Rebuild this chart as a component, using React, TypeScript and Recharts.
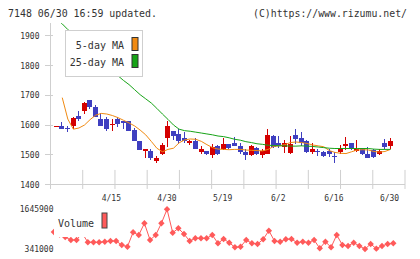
import React from "react";
import { Bar, ComposedChart, Line, ReferenceLine, XAxis, YAxis } from "recharts";

const dates = [
  "4/1", "4/2", "4/3", "4/4", "4/7", "4/8", "4/9", "4/10", "4/11", "4/14",
  "4/15", "4/16", "4/17", "4/18", "4/21", "4/22", "4/23", "4/24", "4/25", "4/28",
  "4/30", "5/1", "5/2", "5/7", "5/8", "5/9", "5/12", "5/13", "5/14", "5/15",
  "5/19", "5/20", "5/21", "5/22", "5/23", "5/26", "5/27", "5/28", "5/29", "5/30",
  "6/2", "6/3", "6/4", "6/5", "6/6", "6/9", "6/10", "6/11", "6/12", "6/13",
  "6/16", "6/17", "6/18", "6/19", "6/20", "6/23", "6/24", "6/25", "6/26", "6/27",
  "6/30",
];
const opens = [
  1597, 1596, 1589, 1597, 1630, 1648, 1684, 1659, 1619, 1620,
  1601, 1620, 1614, 1614, 1583, 1547, 1513, 1512, 1480, 1502,
  1558, 1580, 1569, 1558, 1538, 1545, 1508, 1512, 1499, 1530,
  1518, 1536, 1538, 1529, 1508, 1499, 1523, 1499, 1504, 1563,
  1538, 1525, 1506, 1566, 1555, 1547, 1510, 1512, 1510, 1513,
  1496, 1508, 1530, 1538, 1512, 1521, 1504, 1515, 1501, 1541,
  1530,
];
const highs = [
  1598, 1611, 1596, 1628, 1647, 1678, 1684, 1667, 1641, 1627,
  1620, 1628, 1614, 1614, 1590, 1547, 1519, 1519, 1497, 1540,
  1612, 1580, 1585, 1578, 1548, 1555, 1528, 1512, 1536, 1534,
  1556, 1536, 1559, 1539, 1519, 1534, 1527, 1521, 1586, 1566,
  1562, 1548, 1562, 1588, 1578, 1551, 1538, 1519, 1514, 1521,
  1510, 1532, 1559, 1541, 1549, 1523, 1525, 1521, 1521, 1552,
  1555,
];
const lows = [
  1596, 1585, 1577, 1588, 1613, 1637, 1655, 1628, 1597, 1580,
  1580, 1594, 1588, 1580, 1547, 1515, 1490, 1483, 1472, 1499,
  1527, 1549, 1535, 1538, 1532, 1518, 1502, 1498, 1490, 1499,
  1516, 1518, 1529, 1501, 1482, 1496, 1499, 1490, 1502, 1524,
  1522, 1505, 1502, 1536, 1528, 1505, 1504, 1496, 1492, 1494,
  1473, 1502, 1515, 1515, 1510, 1500, 1488, 1490, 1498, 1518,
  1518,
];
const closes = [
  1597, 1585, 1587, 1622, 1621, 1673, 1659, 1628, 1597, 1585,
  1605, 1604, 1607, 1580, 1547, 1515, 1519, 1490, 1489, 1532,
  1596, 1564, 1547, 1547, 1545, 1521, 1519, 1504, 1527, 1504,
  1536, 1523, 1530, 1508, 1499, 1530, 1502, 1513, 1566, 1527,
  1530, 1538, 1536, 1552, 1540, 1508, 1521, 1508, 1495, 1501,
  1494, 1521, 1536, 1518, 1521, 1504, 1490, 1493, 1513, 1527,
  1545,
];
const ma5 = [
  null, 1692, 1620, 1586, 1590, 1600, 1618, 1633, 1639, 1637,
  1632, 1625, 1616, 1607, 1597, 1583, 1567, 1545, 1522, 1510,
  1518, 1522, 1540, 1550, 1553, 1552, 1545, 1534, 1524, 1519,
  1518, 1517, 1518, 1518, 1516, 1515, 1514, 1513, 1518, 1528,
  1530, 1534, 1541, 1543, 1541, 1538, 1533, 1530, 1527, 1514,
  1508, 1505, 1504, 1510, 1516, 1517, 1516, 1511, 1509, 1511,
  1518,
];
const ma25 = [
  1958, 1940, 1921, 1904, 1885, 1869, 1850, 1834, 1815, 1799,
  1782, 1766, 1750, 1736, 1719, 1702, 1688, 1674, 1656, 1637,
  1619, 1600, 1586, 1581, 1579, 1576, 1573, 1570, 1567, 1563,
  1561, 1557, 1552, 1549, 1544, 1541, 1537, 1535, 1532, 1531,
  1530, 1530, 1529, 1529, 1530, 1529, 1528, 1526, 1524, 1522,
  1521, 1521, 1521, 1521, 1521, 1521, 1521, 1519, 1518, 1518,
  1518,
];
const volumes = [
  900000, 820000, 735000, 637000, 637000, 860000, 561000, 561000, 561000, 581000,
  604000, 604000, 472000, 417000, 890000, 801000, 1186000, 637000, 801000, 1186000,
  1645900, 877000, 1021000, 834000, 604000, 693000, 693000, 693000, 801000, 528000,
  670000, 548000, 397000, 417000, 637000, 528000, 505000, 660000, 943000, 604000,
  581000, 660000, 670000, 548000, 581000, 548000, 637000, 364000, 581000, 397000,
  801000, 472000, 440000, 548000, 440000, 341000, 505000, 352000, 440000, 505000,
  528000,
];

const priceTicks = [1400, 1500, 1600, 1700, 1800, 1900];
const dateTicks = ["4/15", "4/30", "5/19", "6/2", "6/16", "6/30"];
const volumeTicks = [341000, 993450, 1645900];
const axisMarks = [0, 1, 2, 3, 4, 5, 6, 7, 8, 9, 10, 11];

const rows = dates.map((date, i) => ({
  date,
  open: opens[i],
  high: highs[i],
  low: lows[i],
  close: closes[i],
  range: [lows[i], highs[i]],
  ma5: ma5[i],
  ma25: ma25[i],
  volume: volumes[i],
}));
const markRows = axisMarks.map((m) => ({ m }));

const RED = "#d40000";
const BLUE = "#3f3fc0";
const ORANGE = "#f08a12";
const GREEN = "#17a317";
const VOL = "#ff5a5a";
const AXIS = "#cfcfcf";
const TEXT = "#333";
const MONO = "'DejaVu Sans Mono', monospace";

const X_PAD = { left: 3.4, right: 11.7 };

function Candle(props: any) {
  const { x, y, width, height, payload } = props;
  if (x == null || y == null) return null;
  const color = payload.close >= payload.open ? RED : BLUE;
  const cx = Math.floor(x + width / 2) + 0.5;
  const top = Math.min(y, y + height);
  const h = Math.abs(height);
  const span = payload.high - payload.low;
  const ppu = span > 0 ? h / span : 0;
  const bTop = top + (payload.high - Math.max(payload.open, payload.close)) * ppu;
  const bBot = top + (payload.high - Math.min(payload.open, payload.close)) * ppu;
  const by = Math.round(bTop);
  const bh = Math.max(1, Math.round(bBot) - by);
  return (
    <g>
      <line x1={cx} x2={cx} y1={Math.round(top)} y2={Math.round(top + h)} stroke={color} strokeWidth={1} />
      <rect x={cx - 2.5} y={by} width={5} height={bh} fill={color} />
    </g>
  );
}

function PriceTick({ y, payload }: any) {
  const ly = Math.floor(y) + 0.5;
  return (
    <g>
      <line x1={45} x2={53} y1={ly} y2={ly} stroke={AXIS} strokeWidth={1} />
      <text x={39.5} y={y} dy={3} textAnchor="end" fontFamily={MONO} fontSize={8} fill={TEXT}>
        {payload.value}
      </text>
    </g>
  );
}

function DateTick({ x, y, payload }: any) {
  return (
    <text x={x - 1} y={y} dy={8} textAnchor="middle" fontFamily={MONO} fontSize={8} fill={TEXT}>
      {payload.value}
    </text>
  );
}

function VolumeTick({ y, payload }: any) {
  return (
    <text x={53.5} y={y} dy={3} textAnchor="end" fontFamily={MONO} fontSize={8} fill={TEXT}>
      {payload.value}
    </text>
  );
}

function Diamond(props: any) {
  const { cx, cy, key } = props;
  if (cx == null || cy == null) return null;
  const r = 3.2;
  return <path key={key} d={`M${cx},${cy - r}L${cx + r},${cy}L${cx},${cy + r}L${cx - r},${cy}Z`} fill={VOL} />;
}

export default function App() {
  return (
    <div style={{ position: "absolute", left: 0, top: 0, width: 420, height: 259, background: "#fff", overflow: "hidden" }}>
      <div style={{ position: "absolute", left: 0, top: 0 }}>
        <ComposedChart width={420} height={205} data={markRows} margin={{ top: 23, right: 15, bottom: 20.5, left: 50.5 }}>
          <XAxis dataKey="m" type="number" domain={[0, 11]} allowDataOverflow hide />
          <YAxis domain={[1400, 1943]} allowDataOverflow hide />
          {axisMarks.map((m) => (
            <ReferenceLine
              key={m}
              segment={[{ x: m, y: 1449 }, { x: m, y: 1385 }]}
              ifOverflow="visible"
              stroke={AXIS}
              strokeWidth={1}
            />
          ))}
        </ComposedChart>
      </div>
      <div style={{ position: "absolute", left: 0, top: 0 }}>
        <ComposedChart width={420} height={205} data={rows} margin={{ top: 23, right: 15, bottom: 0.5, left: 0 }}>
          <XAxis
            dataKey="date"
            ticks={dateTicks}
            interval={0}
            padding={X_PAD}
            tickLine={false}
            axisLine={{ stroke: AXIS }}
            tick={<DateTick />}
            height={20}
          />
          <YAxis
            domain={[1400, 1943]}
            allowDataOverflow
            ticks={priceTicks}
            width={50.5}
            tickLine={false}
            axisLine={{ stroke: AXIS }}
            tick={<PriceTick />}
          />
          <Bar dataKey="range" barSize={5} shape={<Candle />} isAnimationActive={false} />
          <Line dataKey="ma5" type="linear" stroke={ORANGE} strokeWidth={1} dot={false} isAnimationActive={false} />
          <Line dataKey="ma25" type="linear" stroke={GREEN} strokeWidth={1} dot={false} isAnimationActive={false} />
        </ComposedChart>
      </div>
      <div style={{ position: "absolute", left: 0, top: 200 }}>
        <ComposedChart width={420} height={59} data={rows} margin={{ top: 9.3, right: 15, bottom: 10, left: 0 }}>
          <XAxis dataKey="date" padding={X_PAD} hide />
          <YAxis
            domain={[341000, 1645900]}
            ticks={volumeTicks}
            width={50.5}
            tickLine={false}
            axisLine={false}
            tick={<VolumeTick />}
          />
          <Line dataKey="volume" type="linear" stroke={VOL} strokeWidth={1} dot={<Diamond />} isAnimationActive={false} />
        </ComposedChart>
      </div>
      <svg width={420} height={259} style={{ position: "absolute", left: 0, top: 0, pointerEvents: "none" }}>
        <text x={8} y={16.5} fontFamily={MONO} fontSize={10} fill={TEXT} textLength={149} lengthAdjust="spacingAndGlyphs">
          7148 06/30 16:59 updated.
        </text>
        <text x={253} y={16.5} fontFamily={MONO} fontSize={10} fill={TEXT} textLength={154} lengthAdjust="spacingAndGlyphs">
          (C)https://www.rizumu.net/
        </text>
        <rect x={65.5} y={30.5} width={77} height={46} fill="#fff" stroke={AXIS} strokeWidth={1} />
        <text x={124} y={49} textAnchor="end" fontFamily={MONO} fontSize={10} fill={TEXT}>
          5-day MA
        </text>
        <text x={124} y={66} textAnchor="end" fontFamily={MONO} fontSize={10} fill={TEXT}>
          25-day MA
        </text>
        <rect x={132} y={37.5} width={6} height={13} fill={ORANGE} stroke="#333" strokeWidth={1} />
        <rect x={132} y={54.5} width={6} height={13} fill={GREEN} stroke="#333" strokeWidth={1} />
        <rect x={54} y={207} width={57} height={30} fill="#fff" />
        <text x={58} y={226.5} fontFamily={MONO} fontSize={10} fill={TEXT}>
          Volume
        </text>
        <rect x={102} y={213} width={5} height={15} fill={VOL} stroke="#444" strokeWidth={1} />
      </svg>
    </div>
  );
}
